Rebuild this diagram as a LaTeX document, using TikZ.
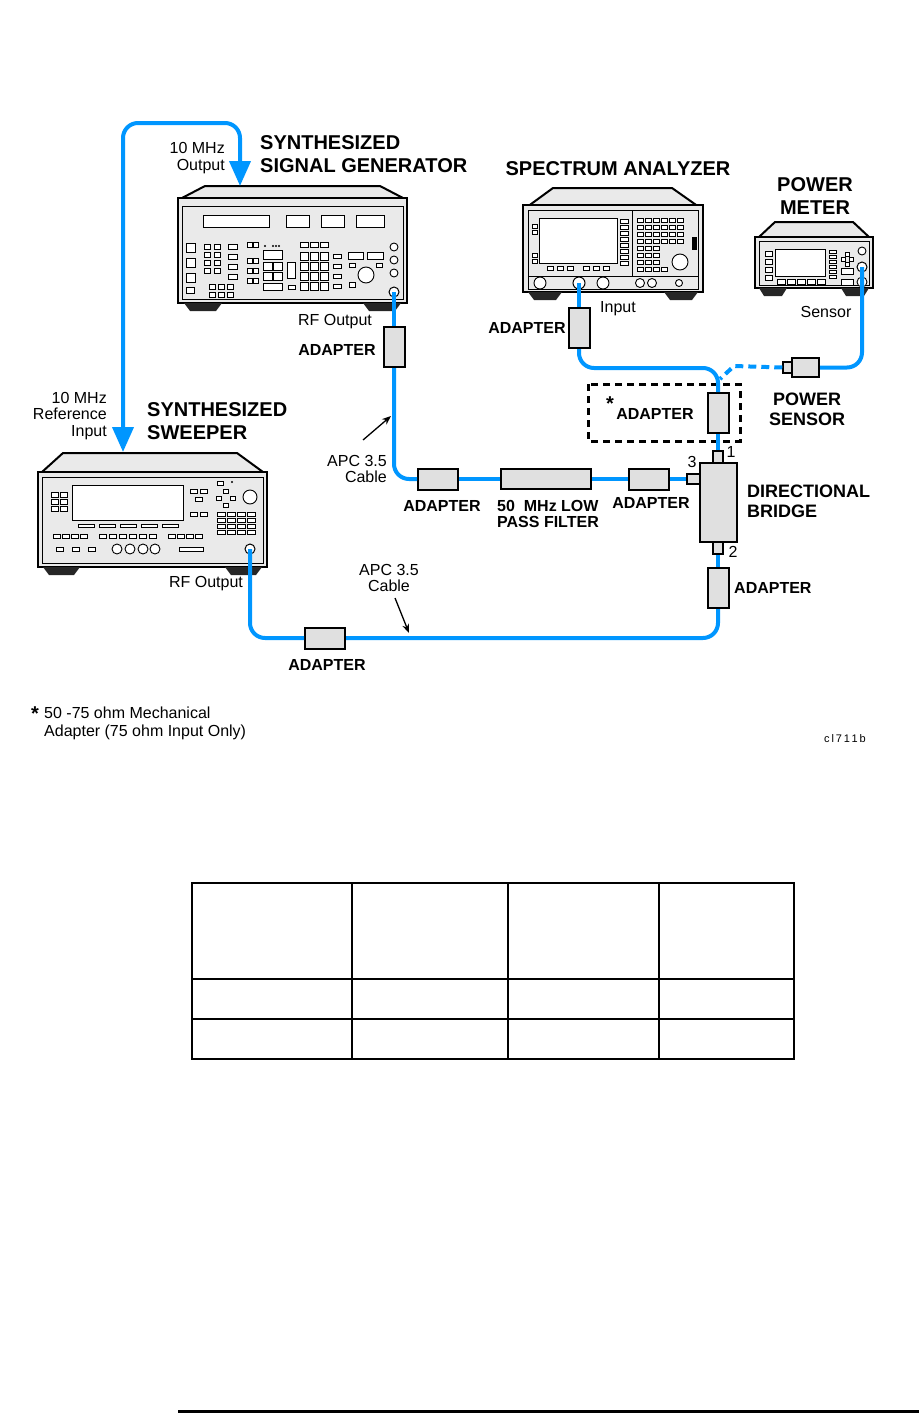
\documentclass[tikz,border=0pt]{standalone}
\usepackage{fontspec}
\setmainfont{Liberation Sans}
\usetikzlibrary{arrows.meta}
\definecolor{cableblue}{RGB}{0,150,255}
\definecolor{boxgray}{RGB}{224,224,224}
\definecolor{panelgray}{RGB}{234,234,234}

\tikzset{
  case/.style={draw=black, fill=panelgray, line width=2pt},
  trim/.style={draw=black, line width=1pt},
  key/.style={draw=black, fill=white, line width=0.9pt},
  foot/.style={fill=black!85},
  adv/.style={draw=black, fill=boxgray, line width=2pt, inner sep=0pt, minimum width=21pt, minimum height=40pt},
  adh/.style={draw=black, fill=boxgray, line width=2pt, inner sep=0pt, minimum width=40pt, minimum height=21pt},
  port/.style={circle, draw=black, fill=white, line width=1pt, inner sep=0pt, minimum size=10pt},
  cable/.style={draw=cableblue, line width=4pt, rounded corners=15pt},
  pointer/.style={draw=black, line width=1.3pt, -{Stealth[length=9pt,width=7pt]}},
  title/.style={font=\fontsize{20}{23}\selectfont\bfseries, inner sep=0pt, align=left},
  subtitle/.style={font=\fontsize{18}{20}\selectfont\bfseries, inner sep=0pt, align=left},
  label/.style={font=\fontsize{16}{16}\selectfont\bfseries, inner sep=0pt, align=left},
  note/.style={font=\fontsize{16}{16.5}\selectfont, inner sep=0pt}
}

\begin{document}
\begin{tikzpicture}[x=1pt, y=-1pt]
\useasboundingbox (0,0) rectangle (919,1413);

% signal generator
\draw[case] (182,198) -- (205,186) -- (380,186) -- (403,198) -- cycle;
\draw[case] (178,198) rectangle (407,303);
\draw[trim] (182,206) rectangle (403,299);
\fill[foot] (184,303) -- (222,303) -- (216,311) -- (190,311) -- cycle;
\fill[foot] (363,303) -- (401,303) -- (395,311) -- (369,311) -- cycle;
\draw[key] (203,215) rectangle (269,227);
\foreach \x/\w in {286/23,321/23,356/28} \draw[key] (\x,215) rectangle ++(\w,12);
\foreach \y in {243,258,273} \draw[key] (186,\y) rectangle ++(9,9);
\draw[key] (186,287) rectangle ++(8,6);
\foreach \x in {204,214} \foreach \y in {244,252,260,268} \draw[key] (\x,\y) rectangle ++(6,5);
\foreach \y in {244,254,264,274} \draw[key] (228,\y) rectangle ++(9,5);
\foreach \x in {209,218,227} \foreach \y in {284,292} \draw[key] (\x,\y) rectangle ++(6,5);
\foreach \x in {247,253} \foreach \y in {242,258,268,278} \draw[key] (\x,\y) rectangle ++(5,5);
\foreach \x in {265,273,276,279} \fill (\x,246) circle (1.2);
\draw[key] (263,250) rectangle (282,259);
\foreach \x in {263,273} \foreach \y in {262,272} \draw[key] (\x,\y) rectangle ++(9,8);
\draw[key] (263,283) rectangle (282,290);
\draw[key] (287,262) rectangle (295,278);
\draw[key] (288,285) rectangle (295,289);
\foreach \x in {300,310,320} \draw[key] (\x,242) rectangle ++(8,5);
\foreach \x in {300,310,320} \foreach \y in {252,262,272,282} \draw[key] (\x,\y) rectangle ++(8,8);
\foreach \y in {254,264,274,284} \draw[key] (333,\y) rectangle ++(8,4);
\draw[key] (348,252) rectangle (363,259);
\draw[key] (367,252) rectangle (383,259);
\draw[key] (349,263) rectangle ++(6,4);
\draw[key] (376,263) rectangle ++(6,4);
\draw[key] (349,282) rectangle ++(6,5);
\draw[key] (366,275) circle (8);
\foreach \y in {247,260,273} \draw[key] (394,\y) circle (4);
\node[port] (sgrf) at (394,292) {};
\coordinate (sgref) at (240,186);

% spectrum analyzer
\draw[case] (527,207) -- (553,188) -- (672,188) -- (699,207) -- cycle;
\draw[case] (523,205) rectangle (703,292);
\draw[trim] (528,210) rectangle (698,289);
\draw[trim] (528,276) -- (698,276);
\draw[trim] (632,210) -- (632,276);
\fill[foot] (528,292) -- (562,292) -- (556,300) -- (534,300) -- cycle;
\fill[foot] (664,292) -- (698,292) -- (692,300) -- (670,300) -- cycle;
\draw[key] (539,218) rectangle (617,263);
\foreach \y in {224,230,253,259} \draw[key] (532,\y) rectangle ++(5,4);
\foreach \y in {219,225,...,261} \draw[key] (620,\y) rectangle ++(8,4);
\foreach \x in {547,557,567,583,593,603} \draw[key] (\x,266) rectangle ++(6,4);
\foreach \x in {637,645,653,661,669,677} \foreach \y in {218,225,232,239} \draw[key] (\x,\y) rectangle ++(6,4);
\foreach \x in {637,645,653} \foreach \y in {246,253,260,267} \draw[key] (\x,\y) rectangle ++(6,4);
\draw[key] (661,267) rectangle ++(6,4);
\draw[key] (680,262) circle (8);
\fill (692,237) rectangle (697,250);
\foreach \x/\r in {540/6,603/6,640/4.5,652/4.5,679/3.5} \draw[key] (\x,283) circle (\r);
\node[port, minimum size=12pt] (sain) at (579,283) {};

% power meter
\draw[case] (759,237) -- (775,222) -- (853,222) -- (869,237) -- cycle;
\draw[case] (755,237) rectangle (873,288);
\draw[trim] (759,241) rectangle (869,285);
\fill[foot] (759,288) -- (787,288) -- (782,296) -- (764,296) -- cycle;
\fill[foot] (841,288) -- (869,288) -- (864,296) -- (846,296) -- cycle;
\draw[key] (775,249) rectangle (825,276);
\foreach \y in {251,259,267,275} \draw[key] (765,\y) rectangle ++(7,5);
\foreach \x in {777,787,797,807,817} \draw[key] (\x,279) rectangle ++(8,5);
\foreach \y in {250,255,260,265,270,275} \draw[key] (829,\y) rectangle ++(7,3.5);
\foreach \x/\y in {845/252,841/257,849/257,845/262} \draw[key] (\x,\y) rectangle ++(4,4);
\draw[key] (841,268) rectangle ++(12,6);
\draw[key] (841,279) rectangle ++(12,6);
\draw[key] (862,251) circle (4);
\draw[key] (862,282) circle (5);
\node[port] (pmsen) at (862,267) {};

% sweeper
\draw[case] (42,472) -- (63,453) -- (237,453) -- (263,472) -- cycle;
\draw[case] (38,472) rectangle (267,567);
\draw[trim] (42,477) rectangle (263,563);
\fill[foot] (43,567) -- (80,567) -- (74,575) -- (49,575) -- cycle;
\fill[foot] (225,567) -- (262,567) -- (256,575) -- (231,575) -- cycle;
\draw[key] (72,485) rectangle (183,520);
\foreach \x in {51,60} \foreach \y in {492,499,506} \draw[key] (\x,\y) rectangle ++(7,5);
\foreach \x in {78,99,120,141,162} \draw[key] (\x,524) rectangle ++(16,3);
\foreach \x in {53,62,71,80,99,109,119,129,139,149,168,177,186,195} \draw[key] (\x,534) rectangle ++(7,4);
\foreach \x in {56,72,88} \draw[key] (\x,547) rectangle ++(7,4);
\foreach \x in {117,130,143,155} \draw[key] (\x,549) circle (5);
\draw[key] (179,547) rectangle (203,551);
\draw[key] (217,481) rectangle ++(6,4);
\fill (232,482) circle (1.2);
\foreach \x/\y in {190/489,200/489,195/497,190/512,200/512} \draw[key] (\x,\y) rectangle ++(7,4);
\foreach \x/\y in {223/489,216/496,230/496,223/503} \draw[key] (\x,\y) rectangle ++(5,4);
\draw[key] (250,497) circle (7);
\foreach \x in {217,227,237,247} \foreach \y in {512,518,524,530} \draw[key] (\x,\y) rectangle ++(8,4);
\node[port] (swrf) at (250,549) {};
\coordinate (swref) at (123,452);

% optional adapter box
\draw[line width=3pt, dash pattern=on 7pt off 5pt] (588,384) rectangle (740,441);

% adapters, filter, bridge
\node[adv] (sgad) at (394,347) {};
\node[adv] (saad) at (579,328) {};
\node[adv] (ad3) at (718,413) {};
\node[adv] (ad4) at (718,588) {};
\node[adh] (ad1) at (438,479) {};
\node[adh] (ad2) at (649,479) {};
\node[adh] (ad5) at (325,638) {};
\node[adh, minimum width=90pt, minimum height=20pt] (filt) at (546,479) {};
\node[adh, minimum width=37pt, minimum height=79pt] (bridge) at (718.5,502.5) {};
\node[adh, line width=1.5pt, minimum width=13pt, minimum height=10pt] (port3) at (693.5,479) {};
\node[adh, line width=1.5pt, minimum width=10pt, minimum height=12pt] (port1) at (718,457) {};
\node[adh, line width=1.5pt, minimum width=10pt, minimum height=12pt] (port2) at (718,548) {};
\node[adh, minimum width=27pt, minimum height=19pt] (psens) at (805.5,367.5) {};
\node[adh, line width=1.5pt, minimum width=9pt, minimum height=11pt] (pscon) at (787.5,367.5) {};
\coordinate (join) at (718,368);
\coordinate (dashend) at (720,379);

% cables
\draw[cable, {Triangle[width=21pt,length=25pt]}-{Triangle[width=21pt,length=25pt]}] (sgref) -- ++(0,-63) -| (swref);
\draw[cable] (sgrf.center) -- (sgad.north);
\draw[cable] (sgad.south) |- (ad1.west);
\draw[cable] (ad1.east) -- (filt.west);
\draw[cable] (filt.east) -- (ad2.west);
\draw[cable] (ad2.east) -- (port3.west);
\draw[cable] (sain.center) -- (saad.north);
\draw[cable] (saad.south) |- (join) -- (ad3.north);
\draw[cable] (ad3.south) -- (port1.north);
\draw[cable] (port2.south) -- (ad4.north);
\draw[cable] (ad4.south) |- (ad5.east);
\draw[cable] (ad5.west) -| (swrf.center);
\draw[cable] (psens.east) -| (pmsen.center);
\draw[cable, dash pattern=on 8pt off 5pt, rounded corners=0pt] (pscon.west) -- (734,366) -- (dashend);

% labels
\node[title, anchor=west] at (260,154.5) {SYNTHESIZED\\SIGNAL GENERATOR};
\node[note, align=right, anchor=east] at (225,158) {10 MHz\\Output};
\node[title] at (618,169) {SPECTRUM ANALYZER};
\node[title, align=center] at (815,196.5) {POWER\\METER};
\node[title, anchor=west] at (147,421.5) {SYNTHESIZED\\SWEEPER};
\node[note, align=right, anchor=east] at (107,416) {10 MHz\\Reference\\Input};
\node[note] at (335,322) {RF Output};
\node[label] at (337,350) {ADAPTER};
\node[note, anchor=west] at (600,309) {Input};
\node[label] at (527,328) {ADAPTER};
\node[note] at (826,312) {Sensor};
\node[title] at (610,404) {*};
\node[label] at (655,414) {ADAPTER};
\node[subtitle, align=center] at (807,409) {POWER\\SENSOR};
\node[note, align=right, anchor=east] (apc1) at (387,469) {APC 3.5\\Cable};
\coordinate (apc1tail) at (363,440);
\coordinate (apc1tip) at (391,416);
\draw[pointer] (apc1tail) -- (apc1tip);
\node[label] at (442,506) {ADAPTER};
\node[label, anchor=west] at (497,514) {50\ \ MHz LOW\\PASS FILTER};
\node[label] at (651,503) {ADAPTER};
\node[note] at (692,462) {3};
\node[note] at (731,452) {1};
\node[note] at (733,552) {2};
\node[subtitle, anchor=west] at (747,501) {DIRECTIONAL\\BRIDGE};
\node[label, anchor=west] at (734,588) {ADAPTER};
\node[note] at (206,584) {RF Output};
\node[note, align=center] (apc2) at (389,578) {APC 3.5\\Cable};
\coordinate (apc2tail) at (395,598);
\coordinate (apc2tip) at (409,633);
\draw[pointer] (apc2tail) -- (apc2tip);
\node[label] at (327,665) {ADAPTER};

% footnote
\node[title] at (35,714) {*};
\node[note, align=left, anchor=west, font=\fontsize{16}{18}\selectfont] at (44,723) {50 -75 ohm Mechanical\\Adapter (75 ohm Input Only)};
\node[note, font=\fontsize{11}{12}\selectfont] at (845,739) {c\,l\,7\,1\,1\,b};

% table
\draw[line width=1.5pt] (192,883) rectangle (794,1059);
\foreach \y in {979,1019} \draw[line width=1.5pt] (192,\y) -- (794,\y);
\foreach \x in {352,508,659} \draw[line width=1.5pt] (\x,883) -- (\x,1059);

% bottom rule
\draw[line width=3pt] (178,1411) -- (919,1411);
\end{tikzpicture}
\end{document}
